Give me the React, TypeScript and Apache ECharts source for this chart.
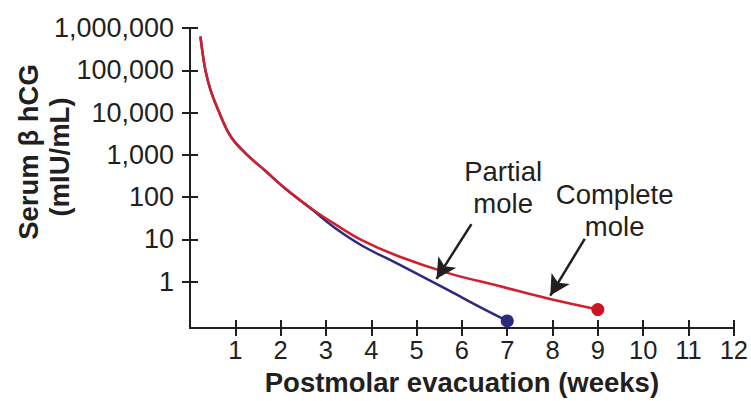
import React, { useEffect, useRef } from "react";
import * as echarts from "echarts";

// Weeks after evacuation and serum hCG (mIU/mL)
const completeWeeks = [0.23, 0.28, 0.34, 0.45, 0.63, 0.85, 1.0, 1.26, 1.66, 2.1, 2.7, 3.2, 3.8, 4.6, 5.7, 6.8, 7.9, 9];
const completeValues = [630000, 250000, 100000, 35000, 11000, 3300, 1950, 1000, 420, 160, 52, 23, 9.5, 4.0, 1.6, 0.8, 0.4, 0.22];

const partialWeeks = [0.23, 0.28, 0.34, 0.45, 0.63, 0.85, 1.0, 1.26, 1.66, 2.1, 2.7, 3.2, 3.8, 4.6, 5.7, 6.4, 7];
const partialValues = [630000, 250000, 100000, 35000, 11000, 3300, 1950, 1000, 420, 160, 50, 18.6, 7.1, 2.6, 0.63, 0.25, 0.118];

const xTicks = [1, 2, 3, 4, 5, 6, 7, 8, 9, 10, 11, 12];
const yTicks = [1, 10, 100, 1000, 10000, 100000, 1000000];

const labelTexts = ["Partial\nmole", "Complete\nmole"];
const labelWeeks = [6.91, 9.37];
const labelValues = [172, 49];

// arrows: [startWeek, startValue, tipWeek, tipValue]
const partialArrow = [6.21, 23, 5.44, 1.17];
const completeArrow = [8.71, 10.3, 7.95, 0.47];

const INK = "#231f20";
const RED = "#d21f2d";
const BLUE = "#2c2a80";
const FONT = '"Liberation Sans", Arial, Helvetica, sans-serif';

export default function App() {
  const ref = useRef<HTMLDivElement>(null);
  useEffect(() => {
    document.body.style.margin = "0";
    if (!ref.current) return;
    const chart = echarts.init(ref.current, null, { renderer: "svg" });
    const toPairs = (xs: number[], ys: number[]) => xs.map((x, i) => [x, ys[i]]);
    const fmt = (v: number) => Math.round(v).toLocaleString("en-US");

    const baseX = {
      type: "value",
      min: 0,
      max: 12,
      interval: 1,
      splitLine: { show: false },
    };
    const baseY = {
      type: "log",
      logBase: 10,
      min: 0.08,
      max: 1000000,
      position: "left",
      splitLine: { show: false },
      minorTick: { show: false },
    };

    chart.setOption({
      animation: false,
      backgroundColor: "#fff",
      grid: { left: 190, right: 15, top: 28, bottom: 71 },
      xAxis: [
        {
          ...baseX,
          axisLine: { show: true, lineStyle: { color: INK, width: 2 } },
          axisTick: { show: true, inside: false, length: 8, lineStyle: { color: INK, width: 2 }, customValues: xTicks },
          axisLabel: {
            show: true,
            customValues: xTicks,
            margin: 9,
            fontSize: 25.5,
            fontFamily: FONT,
            color: INK,
          },
          name: "Postmolar evacuation (weeks)",
          nameLocation: "middle",
          nameGap: 35,
          nameTextStyle: { fontSize: 27.5, fontWeight: "bold", fontFamily: FONT, color: INK },
        },
        {
          ...baseX,
          position: "bottom",
          axisLine: { show: false },
          axisTick: { show: true, inside: true, length: 8, lineStyle: { color: INK, width: 2 }, customValues: xTicks },
          axisLabel: { show: false },
        },
      ],
      yAxis: [
        {
          ...baseY,
          axisLine: { show: true, lineStyle: { color: INK, width: 2 } },
          axisTick: { show: true, inside: false, length: 8, lineStyle: { color: INK, width: 2 }, customValues: yTicks },
          axisLabel: {
            show: true,
            customValues: yTicks,
            formatter: (v: number) => fmt(v),
            margin: 16,
            fontSize: 27,
            fontFamily: FONT,
            color: INK,
          },
        },
        {
          ...baseY,
          axisLine: { show: false },
          axisTick: { show: true, inside: true, length: 8, lineStyle: { color: INK, width: 2 }, customValues: yTicks },
          axisLabel: { show: false },
        },
      ],
      graphic: [
        {
          type: "text",
          x: 28,
          y: 152,
          rotation: Math.PI / 2,
          style: {
            text: "Serum β hCG",
            fontSize: 27.5,
            fontWeight: "bold",
            fontFamily: FONT,
            fill: INK,
            align: "center",
            verticalAlign: "middle",
          },
        },
        {
          type: "text",
          x: 59,
          y: 157,
          rotation: Math.PI / 2,
          style: {
            text: "(mIU/mL)",
            fontSize: 27.5,
            fontWeight: "bold",
            fontFamily: FONT,
            fill: INK,
            align: "center",
            verticalAlign: "middle",
          },
        },
      ],
      series: [
        {
          name: "Partial mole",
          type: "line",
          data: toPairs(partialWeeks, partialValues),
          smooth: 0.4,
          showSymbol: false,
          lineStyle: { color: BLUE, width: 2.5 },
          z: 2,
        },
        {
          name: "Complete mole",
          type: "line",
          data: toPairs(completeWeeks, completeValues),
          smooth: 0.4,
          showSymbol: false,
          lineStyle: { color: RED, width: 2.5 },
          z: 3,
          markLine: {
            silent: true,
            symbol: ["none", "arrow"],
            symbolSize: [16, 20],
            label: { show: false },
            lineStyle: { color: INK, width: 2.5, type: "solid" },
            data: [
              [
                { coord: [partialArrow[0], partialArrow[1]] },
                { coord: [partialArrow[2], partialArrow[3]] },
              ],
              [
                { coord: [completeArrow[0], completeArrow[1]] },
                { coord: [completeArrow[2], completeArrow[3]] },
              ],
            ],
          },
        },
        {
          name: "Partial end",
          type: "scatter",
          data: [[partialWeeks[partialWeeks.length - 1], partialValues[partialValues.length - 1]]],
          symbol: "circle",
          symbolSize: 13,
          itemStyle: { color: BLUE, opacity: 1 },
          z: 4,
        },
        {
          name: "Complete end",
          type: "scatter",
          data: [[completeWeeks[completeWeeks.length - 1], completeValues[completeValues.length - 1]]],
          symbol: "circle",
          symbolSize: 13,
          itemStyle: { color: "#cc1424", opacity: 1 },
          z: 4,
        },
        {
          name: "labels",
          type: "scatter",
          symbolSize: 0,
          silent: true,
          itemStyle: { opacity: 1 },
          data: labelTexts.map((t, i) => ({ name: t, value: [labelWeeks[i], labelValues[i]] })),
          label: {
            show: true,
            position: "inside",
            formatter: "{b}",
            fontSize: 27.5,
            lineHeight: 32,
            fontFamily: FONT,
            color: INK,
            opacity: 1,
            textBorderWidth: 0,
            align: "center",
          },
        },
      ],
    });
    return () => chart.dispose();
  }, []);
  return <div ref={ref} style={{ width: 751, height: 401 }} />;
}
